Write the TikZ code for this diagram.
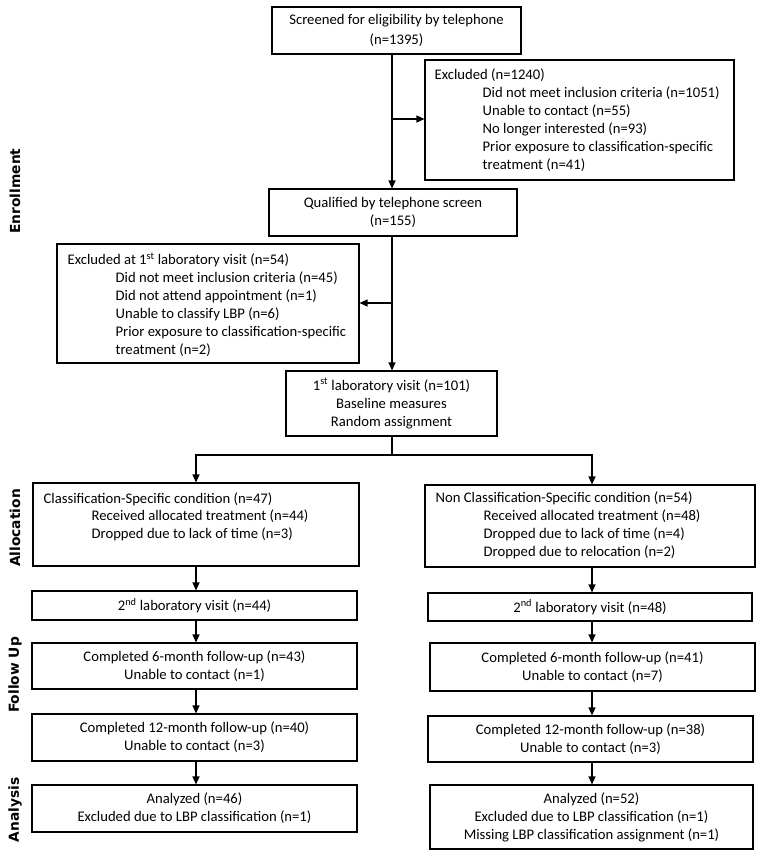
\documentclass[tikz,border=0pt]{standalone}
\usepackage{fontspec}
\setmainfont{Carlito}
\newfontfamily\sidefont{DejaVu Sans}
\usetikzlibrary{arrows.meta}
\begin{document}
\begin{tikzpicture}[x=1pt,y=-1pt,
  box/.style={draw, line width=1.1pt, inner sep=0pt, align=center,
              font=\fontsize{14.67}{17.9}\selectfont},
  txt/.style={inner sep=0pt, align=left, anchor=west,
              font=\fontsize{14.67}{17.9}\selectfont},
  ln/.style={line width=1.3pt},
  arr/.style={line width=1.3pt, -{Triangle[length=8pt,width=7pt]}},
  side/.style={rotate=90, inner sep=0pt, font=\sidefont\bfseries\fontsize{13.8}{16}\selectfont}]
\newcommand{\ind}{\hspace*{48pt}}
\fill[white] (0,0) rectangle (764,858);
\useasboundingbox (0,0) rectangle (764,858);

% side labels
\node[side] (enr) at (15,191) {Enrollment};
\node[side] (alo) at (15,528) {Allocation};
\node[side] (fol) at (15,675) {Follow Up};
\node[side] (ana) at (15,810) {Analysis};

% enrollment
\node[box, minimum width=249pt, minimum height=47pt] (scr) at (396.5,30.5)
  {Screened for eligibility by telephone\\[1.5pt](n=1395)};
\node[box, minimum width=309pt, minimum height=120pt] (exa) at (579.5,120) {};
\node[txt] (exat) at ([xshift=10pt]exa.west)
  {Excluded (n=1240)\\
   \ind Did not meet inclusion criteria (n=1051)\\
   \ind Unable to contact (n=55)\\
   \ind No longer interested (n=93)\\
   \ind Prior exposure to classification-specific\\
   \ind treatment (n=41)};
\node[box, minimum width=248pt, minimum height=47pt] (qual) at (393,212.5)
  {Qualified by telephone screen\\(n=155)};
\node[box, minimum width=302pt, minimum height=119pt] (exb) at (208,303.5) {};
\node[txt] (exbt) at ([xshift=11pt,yshift=-1pt]exb.west)
  {Excluded at 1\textsuperscript{st} laboratory visit (n=54)\\
   \ind Did not meet inclusion criteria (n=45)\\
   \ind Did not attend appointment (n=1)\\
   \ind Unable to classify LBP (n=6)\\
   \ind Prior exposure to classification-specific\\
   \ind treatment (n=2)};
\node[box, minimum width=211pt, minimum height=65pt] (lab1) at (391.5,403.5)
  {1\textsuperscript{st} laboratory visit (n=101)\\Baseline measures\\Random assignment};

\coordinate (sp) at (392,0);
\draw[arr] (scr.south -| sp) -- (qual.north -| sp);
\coordinate (j1) at (392,119);
\draw[arr] (j1) -- (j1 -| exa.west);
\draw[arr] (qual.south -| sp) -- (lab1.north -| sp);
\coordinate (j2) at (392,303);
\draw[arr] (j2) -- (j2 -| exb.east);

% allocation
\node[box, minimum width=326pt, minimum height=83pt] (clsL) at (196,524.5) {};
\node[txt] (clsLt) at ([xshift=11pt]clsL.west)
  {Classification-Specific condition (n=47)\\
   \ind Received allocated treatment (n=44)\\
   \ind Dropped due to lack of time (n=3)\\ \mbox{}};
\node[box, minimum width=330pt, minimum height=82pt] (clsR) at (590,526) {};
\node[txt] (clsRt) at ([xshift=11pt,yshift=1pt]clsR.west)
  {Non Classification-Specific condition (n=54)\\
   \ind Received allocated treatment (n=48)\\
   \ind Dropped due to lack of time (n=4)\\
   \ind Dropped due to relocation (n=2)};

\coordinate (spL) at (196,0);
\coordinate (spR) at (592,0);
\coordinate (br) at (392,455);
\draw[ln] (lab1.south -| sp) -- (br);
\draw[arr] (br) -| (clsL.north -| spL);
\draw[arr] (br) -| (clsR.north -| spR);

% follow up
\node[box, minimum width=325pt, minimum height=29pt] (lab2L) at (194.5,605.5)
  {2\textsuperscript{nd} laboratory visit (n=44)};
\node[box, minimum width=324pt, minimum height=28pt] (lab2R) at (590,607)
  {2\textsuperscript{nd} laboratory visit (n=48)};
\node[box, minimum width=325pt, minimum height=46pt] (m6L) at (194.5,666)
  {Completed 6-month follow-up (n=43)\\Unable to contact (n=1)};
\node[box, minimum width=325pt, minimum height=48pt] (m6R) at (592.5,667)
  {Completed 6-month follow-up (n=41)\\Unable to contact (n=7)};
\node[box, minimum width=325pt, minimum height=47pt] (m12L) at (194.5,737.5)
  {Completed 12-month follow-up (n=40)\\Unable to contact (n=3)};
\node[box, minimum width=325pt, minimum height=46pt] (m12R) at (590.5,739)
  {Completed 12-month follow-up (n=38)\\Unable to contact (n=3)};

% analysis
\node[box, minimum width=325pt, minimum height=47pt] (anL) at (194.5,808.5)
  {Analyzed (n=46)\\Excluded due to LBP classification (n=1)};
\node[box, minimum width=323pt, minimum height=64pt] (anR) at (591.5,817)
  {Analyzed (n=52)\\Excluded due to LBP classification (n=1)\\Missing LBP classification assignment (n=1)};

\foreach \a/\b in {clsL/lab2L, lab2L/m6L, m6L/m12L, m12L/anL}
  \draw[arr] (\a.south -| spL) -- (\b.north -| spL);
\foreach \a/\b in {clsR/lab2R, lab2R/m6R, m6R/m12R, m12R/anR}
  \draw[arr] (\a.south -| spR) -- (\b.north -| spR);
\end{tikzpicture}
\end{document}
